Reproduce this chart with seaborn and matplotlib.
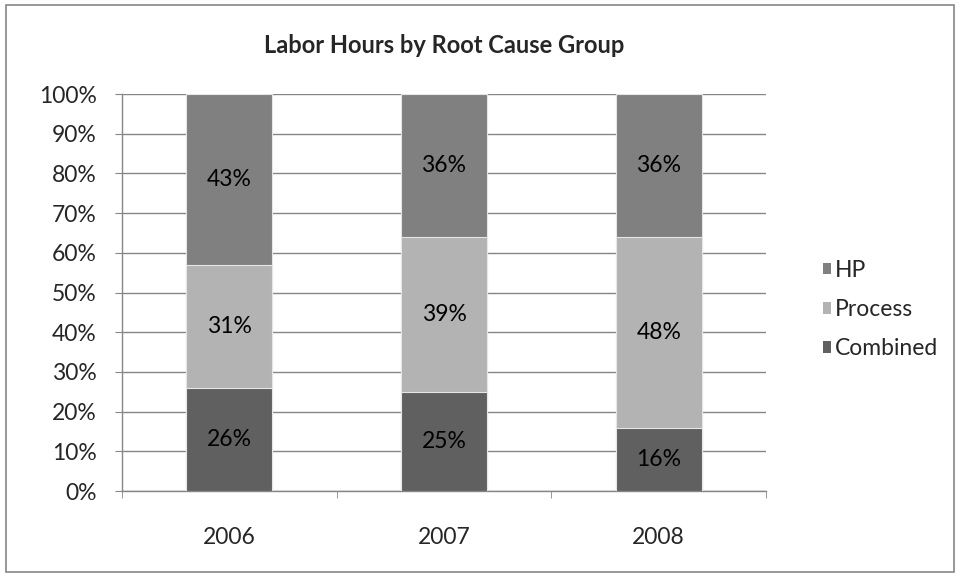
import seaborn as sns
import matplotlib.pyplot as plt
import pandas as pd
from matplotlib.patches import Patch, Rectangle

# data
years = ["2006", "2007", "2008"]
combined = [26, 25, 16]
process = [31, 39, 48]
hp = [43, 36, 36]

series_names = ["HP", "Process", "Combined"]
colors = {"HP": "#808080", "Process": "#b3b3b3", "Combined": "#606060"}

df = pd.DataFrame({"Year": years, "Combined": combined, "Process": process, "HP": hp})
df["c1"] = df["Combined"]
df["c2"] = df["Combined"] + df["Process"]
df["c3"] = df["c2"] + df["HP"]

sns.set_style("white")
plt.rcParams["font.family"] = ["Lato", "DejaVu Sans"]

fig = plt.figure(figsize=(9.6, 5.77), dpi=100)
ax = fig.add_axes([0.127, 0.149, 0.671, 0.688])

# stacked bars: draw cumulative totals from the top down
for col, name in [("c3", "HP"), ("c2", "Process"), ("c1", "Combined")]:
    sns.barplot(data=df, x="Year", y=col, color=colors[name], width=0.4,
                saturation=1, edgecolor="#e6e6e6", linewidth=0.8, ax=ax, zorder=3)

# value labels
for i in range(len(years)):
    parts = [("Combined", 0, combined[i]),
             ("Process", combined[i], process[i]),
             ("HP", combined[i] + process[i], hp[i])]
    for name, base, val in parts:
        ax.text(i, base + val / 2, f"{val}%", ha="center", va="center",
                fontsize=16.5, color="black", zorder=4)

ax.set_xlim(-0.5, 2.5)
ax.set_ylim(0, 100)
ax.set_yticks(range(0, 101, 10))
ax.set_yticklabels([f"{v}%" for v in range(0, 101, 10)], fontsize=16.5)
ax.set_xticks(range(len(years)))
ax.set_xticklabels(years, fontsize=16.5)
ax.set_xticks([-0.5, 0.5, 1.5, 2.5], minor=True)
ax.tick_params(axis="x", which="major", length=0, pad=26)
ax.tick_params(axis="x", which="minor", length=5, color="#868686", direction="out", bottom=True)
ax.tick_params(axis="y", length=5, color="#868686", direction="out", left=True, pad=13)
ax.set_xlabel("")
ax.set_ylabel("")
ax.yaxis.grid(True, color="#868686", linewidth=1, zorder=0)
ax.set_axisbelow(True)
for s in ["top", "right"]:
    ax.spines[s].set_visible(False)
for s in ["left", "bottom"]:
    ax.spines[s].set_color("#868686")
    ax.spines[s].set_linewidth(1)

fig.text(0.4625, 0.922, "Labor Hours by Root Cause Group", ha="center", va="center",
         fontsize=17, fontweight="bold")

handles = [Patch(facecolor=colors[n], edgecolor="none") for n in series_names]
ax.legend(handles, series_names, loc="center left", bbox_to_anchor=(1.057, 0.457),
          frameon=False, fontsize=16.5, handlelength=0.35, handleheight=0.4,
          handletextpad=0.15, labelspacing=0.8)

# outer chart border
fig.patches.append(Rectangle((0.006, 0.008), 0.988, 0.984, transform=fig.transFigure,
                             fill=False, edgecolor="#868686", linewidth=1.2))

fig.savefig("out.png", dpi=100)
